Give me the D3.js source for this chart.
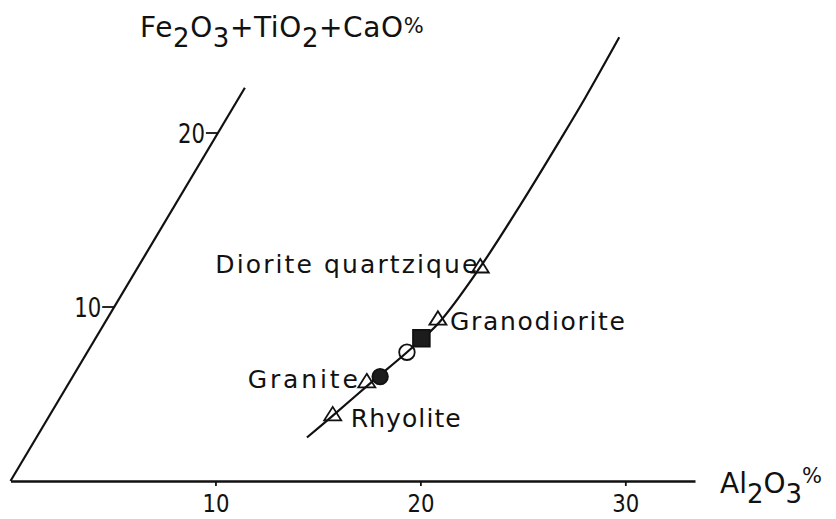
<!DOCTYPE html>
<html>
<head>
<meta charset="utf-8">
<script src="https://cdn.jsdelivr.net/npm/d3@7"></script>
<style>
  html, body { margin: 0; padding: 0; background: #fff; }
  svg { display: block; }
  text { font-family: "DejaVu Sans", sans-serif; fill: #111; }
</style>
</head>
<body>
<svg id="chart" width="836" height="519"></svg>
<script>
// Al2O3 (%) along the horizontal axis, Fe2O3+TiO2+CaO (%) along the oblique axis
const xTicks = [10, 20, 30];
const xTickLabels = ["10", "20", "30"];
const yTicks = [10, 20];
const yTickLabels = ["10", "20"];

// differentiation trend
const trendAl2O3  = [13.2, 13.8, 14.7, 15.6, 16.3, 16.7, 16.85, 16.9, 16.9, 16.8];
const trendFeTiCa = [2.5, 3.7, 5.6, 7.4, 9.1, 12.3, 15.9, 19.6, 22.0, 25.5];

// reference rock types (open triangles)
const rockNames  = ["Rhyolite", "Granite", "Granodiorite", "Diorite quartzique"];
const rockAl2O3  = [13.8, 14.5, 16.15, 16.7];
const rockFeTiCa = [3.8, 5.7, 9.3, 12.3];

// analysed samples
const sampleShapes = ["filledCircle", "openCircle", "filledSquare"];
const sampleAl2O3  = [15.0, 15.6, 15.9];
const sampleFeTiCa = [6.0, 7.4, 8.2];

const svg = d3.select("#chart");
const ink = "#111";

const x = d3.scaleLinear().domain([0, 33.4]).range([10.5, 695]);
const y = d3.scaleLinear().domain([0, 20]).range([481, 133]);
// oblique axis: horizontal shift per pixel of rise
const slant = 0.596;
const px = (a, b) => x(a) + slant * (y(0) - y(b));
const py = b => y(b);

// horizontal axis
const xAxis = d3.axisBottom(x)
  .tickValues(xTicks)
  .tickSize(5)
  .tickSizeOuter(0)
  .tickFormat((d, i) => xTickLabels[i]);

const gx = svg.append("g").attr("transform", `translate(0,${y(0)})`).call(xAxis);
gx.select(".domain").attr("stroke", ink).attr("stroke-width", 2.6);
gx.selectAll(".tick line").attr("stroke", ink).attr("stroke-width", 1.8);
gx.selectAll(".tick text")
  .attr("y", 31).attr("dy", 0)
  .attr("font-size", 25)
  .attr("font-family", "DejaVu Sans, sans-serif")
  .attr("fill", ink)
  .attr("textLength", 27)
  .attr("lengthAdjust", "spacingAndGlyphs");

// oblique axis
svg.append("line")
  .attr("x1", px(0, 0)).attr("y1", py(0))
  .attr("x2", px(0, 22.6)).attr("y2", py(22.6))
  .attr("stroke", ink).attr("stroke-width", 2.2);

const gy = svg.append("g");
yTicks.forEach((t, i) => {
  const tx = px(0, t), ty = py(t);
  gy.append("line")
    .attr("x1", tx - 12).attr("y1", ty)
    .attr("x2", tx).attr("y2", ty)
    .attr("stroke", ink).attr("stroke-width", 1.8);
  gy.append("text")
    .attr("x", tx - 13).attr("y", ty + 10)
    .attr("text-anchor", "end")
    .attr("font-size", 27)
    .attr("textLength", 27)
    .attr("lengthAdjust", "spacingAndGlyphs")
    .text(yTickLabels[i]);
});

// trend curve
const line = d3.line()
  .x((d, i) => px(trendAl2O3[i], trendFeTiCa[i]))
  .y((d, i) => py(trendFeTiCa[i]))
  .curve(d3.curveCatmullRom.alpha(0.5));
svg.append("path")
  .attr("d", line(trendAl2O3))
  .attr("fill", "none")
  .attr("stroke", ink)
  .attr("stroke-width", 2.2);

// rock type triangles
const tri = "M0,-8L8.5,5.5L-8.5,5.5Z";
rockNames.forEach((n, i) => {
  svg.append("path")
    .attr("d", tri)
    .attr("transform", `translate(${px(rockAl2O3[i], rockFeTiCa[i])},${py(rockFeTiCa[i])})`)
    .attr("fill", "none")
    .attr("stroke", ink)
    .attr("stroke-width", 1.8);
});

// sample markers
sampleShapes.forEach((s, i) => {
  const cx = px(sampleAl2O3[i], sampleFeTiCa[i]);
  const cy = py(sampleFeTiCa[i]);
  const sym = d3.symbol()
    .type(s === "filledSquare" ? d3.symbolSquare : d3.symbolCircle)
    .size(s === "filledSquare" ? 280 : 190);
  svg.append("path")
    .attr("d", sym())
    .attr("transform", `translate(${cx},${cy})`)
    .attr("fill", s === "openCircle" ? "none" : "#1c1c1c")
    .attr("stroke", ink)
    .attr("stroke-width", 1.8);
});

// rock type labels
const labelSpec = {
  "Rhyolite":           { dx: 18,  dy: 12, anchor: "start", len: 110 },
  "Granite":            { dx: -9,  dy: 6,  anchor: "end",   len: 110 },
  "Granodiorite":       { dx: 12,  dy: 11, anchor: "start", len: 175 },
  "Diorite quartzique": { dx: -3,  dy: 6,  anchor: "end",   len: 262 }
};
rockNames.forEach((n, i) => {
  const sp = labelSpec[n];
  svg.append("text")
    .attr("x", px(rockAl2O3[i], rockFeTiCa[i]) + sp.dx)
    .attr("y", py(rockFeTiCa[i]) + sp.dy)
    .attr("text-anchor", sp.anchor)
    .attr("font-size", 25)
    .attr("textLength", sp.len)
    .attr("lengthAdjust", "spacing")
    .text(n);
});

// axis titles with chemical subscripts
function formula(sel, parts) {
  parts.forEach(p => {
    const t = sel.append("tspan").text(p.t);
    if (p.sub) t.attr("dy", p.sub).attr("font-size", p.fs || null);
  });
}

const title = svg.append("text")
  .attr("x", 140).attr("y", 37)
  .attr("font-size", 28)
  .attr("letter-spacing", 0.6);
formula(title, [
  { t: "Fe" },
  { t: "2", sub: 10, fs: 26 },
  { t: "O", sub: -10 },
  { t: "3", sub: 10, fs: 26 },
  { t: "+TiO", sub: -10 },
  { t: "2", sub: 10, fs: 26 },
  { t: "+CaO", sub: -10 },
  { t: "%", sub: -4, fs: 21 }
]);

const xTitle = svg.append("text")
  .attr("x", 720).attr("y", 493)
  .attr("font-size", 28);
formula(xTitle, [
  { t: "Al" },
  { t: "2", sub: 10, fs: 26 },
  { t: "O", sub: -10 },
  { t: "3", sub: 10, fs: 26 },
  { t: "%", sub: -20, fs: 21 }
]);
</script>
</body>
</html>
